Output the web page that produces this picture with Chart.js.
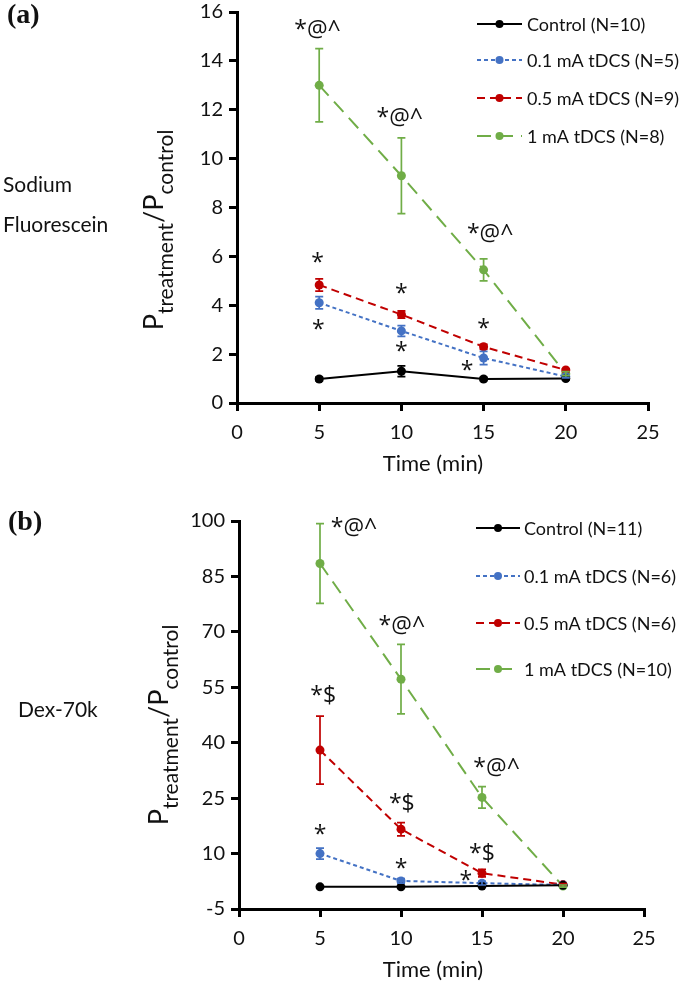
<!DOCTYPE html>
<html>
<head>
<meta charset="utf-8">
<script src="https://cdn.jsdelivr.net/npm/chart.js@4.4.1/dist/chart.umd.min.js"></script>
<style>
  body { margin: 0; background: #fff; }
  #wrap { position: relative; width: 685px; height: 984px; }
  canvas { position: absolute; left: 0; }
</style>
</head>
<body>
<div id="wrap">
  <canvas id="chartA" width="685" height="490" style="top:0"></canvas>
  <canvas id="chartB" width="685" height="494" style="top:490px"></canvas>
</div>
<script>
const times = [5, 10, 15, 20];
const xTicks = [0, 5, 10, 15, 20, 25];

// (a) Sodium Fluorescein
const sfControl = [0.98, 1.3, 0.98, 1.0];
const sfControlErr = [0.08, 0.22, 0.07, 0.05];
const sf01 = [4.1, 2.95, 1.84, 1.08];
const sf01Err = [0.25, 0.22, 0.27, 0.05];
const sf05 = [4.83, 3.62, 2.3, 1.35];
const sf05Err = [0.25, 0.15, 0.1, 0.05];
const sf1 = [13.0, 9.3, 5.45, 1.2];
const sf1Err = [1.5, 1.55, 0.45, 0.08];
const sfTicks = [0, 2, 4, 6, 8, 10, 12, 14, 16];
const sfLegend = ['Control (N=10)', '0.1 mA tDCS (N=5)', '0.5 mA tDCS (N=9)', '1 mA tDCS (N=8)'];
const sfMarks = [
  ['*@^', 4.9, 15.3], ['*@^', 9.9, 11.7], ['*@^', 15.4, 6.95],
  ['*', 4.9, 5.97], ['*', 4.95, 3.2], ['*', 10, 4.7], ['*', 10, 2.3],
  ['*', 15, 3.27], ['*', 14, 1.55]
];

// (b) Dex-70k
const dxControl = [1.0, 1.0, 1.2, 1.4];
const dxControlErr = [0.3, 0.3, 0.3, 0.3];
const dx01 = [10.0, 2.6, 2.0, 1.5];
const dx01Err = [1.5, 0.6, 0.5, 0.3];
const dx05 = [38, 16.6, 4.7, 1.6];
const dx05Err = [9.2, 1.8, 1.0, 0.3];
const dx1 = [88.5, 57.2, 25.2, 1.2];
const dx1Err = [10.8, 9.4, 2.9, 0.3];
const dxTicks = [-5, 10, 25, 40, 55, 70, 85, 100];
const dxLegend = ['Control (N=11)', '0.1 mA tDCS (N=6)', '0.5 mA tDCS (N=6)', '1 mA tDCS (N=10)'];
const dxMarks = [
  ['*@^', 7.1, 98.4], ['*@^', 10.05, 71.9], ['*@^', 15.9, 33.4],
  ['*$', 5.2, 52.9], ['*$', 10.05, 23.7], ['*$', 15, 10.2],
  ['*', 5, 16.4], ['*', 10, 7.4], ['*', 14, 4.2]
];

const FONT = 'Lato';
const INK = '#111';
const styles = [
  { color: '#000000', dash: [] },
  { color: '#4472C4', dash: [4, 3] },
  { color: '#C00000', dash: [8, 5] },
  { color: '#70AD47', dash: [14, 8] }
];

function makeDatasets(series, errs) {
  return series.map((vals, i) => ({
    data: vals.map((v, j) => ({ x: times[j], y: v })),
    errors: errs[i],
    borderColor: styles[i].color,
    backgroundColor: styles[i].color,
    borderDash: styles[i].dash,
    borderWidth: 2,
    pointRadius: 4.5,
    pointHoverRadius: 4.5,
    pointBorderWidth: 0,
    tension: 0,
    fill: false
  }));
}

const errorBars = {
  id: 'errorBars',
  afterDatasetsDraw(chart) {
    const ctx = chart.ctx;
    const ys = chart.scales.y;
    chart.data.datasets.forEach((ds, i) => {
      const meta = chart.getDatasetMeta(i);
      ctx.save();
      ctx.strokeStyle = ds.borderColor;
      ctx.lineWidth = 1.7;
      meta.data.forEach((pt, j) => {
        const v = ds.data[j].y, e = ds.errors[j];
        const top = ys.getPixelForValue(v + e);
        const bot = ys.getPixelForValue(v - e);
        ctx.beginPath();
        ctx.moveTo(pt.x, top); ctx.lineTo(pt.x, bot);
        ctx.moveTo(pt.x - 4, top); ctx.lineTo(pt.x + 4, top);
        ctx.moveTo(pt.x - 4, bot); ctx.lineTo(pt.x + 4, bot);
        ctx.stroke();
      });
      ctx.restore();
    });
  }
};

function drawYTitle(ctx, bx, cy) {
  const parts = [['P', `27px ${FONT}`, 0], ['treatment', `21px ${FONT}`, 10], ['/P', `27px ${FONT}`, 0], ['control', `21px ${FONT}`, 10]];
  let total = 0;
  parts.forEach(p => { ctx.font = p[1]; total += ctx.measureText(p[0]).width; });
  ctx.save();
  ctx.translate(bx, cy);
  ctx.rotate(-Math.PI / 2);
  ctx.fillStyle = INK;
  ctx.textBaseline = 'alphabetic';
  ctx.textAlign = 'left';
  let x = -total / 2;
  parts.forEach(p => {
    ctx.font = p[1];
    ctx.fillText(p[0], x, p[2]);
    x += ctx.measureText(p[0]).width;
  });
  ctx.restore();
}

const decor = {
  id: 'decor',
  afterDraw(chart, args, o) {
    const ctx = chart.ctx;
    const xs = chart.scales.x, ys = chart.scales.y;
    ctx.save();
    ctx.fillStyle = INK;

    // panel letter
    ctx.font = `bold 28px "Liberation Serif"`;
    ctx.textBaseline = 'middle';
    ctx.textAlign = 'left';
    ctx.fillText(o.panel[0], o.panel[1], o.panel[2]);

    // substance labels
    ctx.font = `21px ${FONT}`;
    o.side.forEach(s => ctx.fillText(s[0], s[1], s[2]));

    // x axis title
    ctx.font = `22px ${FONT}`;
    ctx.textAlign = 'center';
    ctx.fillText('Time (min)', o.xTitle[0], o.xTitle[1]);

    drawYTitle(ctx, o.yTitle[0], o.yTitle[1]);

    // significance marks
    ctx.font = `23px "Open Sans"`;
    ctx.textAlign = 'center';
    ctx.textBaseline = 'alphabetic';
    o.marks.forEach(([t, x, y]) => {
      const m = ctx.measureText(t);
      const px = xs.getPixelForValue(x), py = ys.getPixelForValue(y);
      ctx.fillText(t, px, py + (m.actualBoundingBoxAscent - m.actualBoundingBoxDescent) / 2);
    });

    // legend
    const lg = o.legend;
    o.labels.forEach((lab, i) => {
      const y = lg.rows[i];
      ctx.strokeStyle = styles[i].color;
      ctx.fillStyle = styles[i].color;
      ctx.lineWidth = 2;
      ctx.setLineDash(styles[i].dash);
      ctx.beginPath();
      ctx.moveTo(lg.x0, y); ctx.lineTo(lg.x1, y);
      ctx.stroke();
      ctx.setLineDash([]);
      ctx.beginPath();
      ctx.arc((lg.x0 + lg.x1) / 2, y, 4, 0, Math.PI * 2);
      ctx.fill();
      ctx.fillStyle = INK;
      ctx.font = `18px ${FONT}`;
      ctx.textAlign = 'left';
      ctx.textBaseline = 'middle';
      ctx.fillText(lab, lg.tx, y + 1);
    });
    ctx.restore();
  }
};

function axisStyle(pad) {
  return {
    border: { color: '#000', width: 3 },
    grid: { drawOnChartArea: false, drawTicks: true, tickLength: 8, color: '#000', lineWidth: 3 },
    ticks: { color: INK, font: { family: FONT, size: 20 }, padding: pad }
  };
}

function buildChart(id, series, errs, yTicks, cfg) {
  const xAxis = axisStyle(10);
  const yAxis = axisStyle(6);
  return new Chart(document.getElementById(id), {
    type: 'line',
    data: { datasets: makeDatasets(series, errs) },
    options: {
      responsive: false,
      animation: false,
      events: [],
      layout: { padding: { top: cfg.top, right: cfg.right, left: 0, bottom: 0 } },
      scales: {
        x: Object.assign(xAxis, {
          type: 'linear', min: xTicks[0], max: xTicks[xTicks.length - 1],
          afterBuildTicks: s => { s.ticks = xTicks.map(v => ({ value: v })); },
          afterFit: s => { s.height = cfg.xHeight; s.paddingLeft = 0; s.paddingRight = 0; }
        }),
        y: Object.assign(yAxis, {
          type: 'linear', min: yTicks[0], max: yTicks[yTicks.length - 1],
          afterBuildTicks: s => { s.ticks = yTicks.map(v => ({ value: v })); },
          afterFit: s => { s.width = cfg.left; s.paddingTop = 0; s.paddingBottom = 0; }
        })
      },
      plugins: {
        legend: { display: false },
        tooltip: { enabled: false },
        decor: cfg.decor
      }
    },
    plugins: [errorBars, decor]
  });
}

buildChart('chartA', [sfControl, sf01, sf05, sf1], [sfControlErr, sf01Err, sf05Err, sf1Err], sfTicks, {
  top: 12, right: 37, left: 237, xHeight: 87,
  decor: {
    panel: ['(a)', 7, 16],
    side: [['Sodium', 3, 185], ['Fluorescein', 3, 225]],
    xTitle: [433, 464],
    yTitle: [163, 230],
    marks: sfMarks,
    labels: sfLegend,
    legend: { x0: 477, x1: 522, tx: 527, rows: [24, 60, 98, 136] }
  }
});

buildChart('chartB', [dxControl, dx01, dx05, dx1], [dxControlErr, dx01Err, dx05Err, dx1Err], dxTicks, {
  top: 31, right: 41, left: 239, xHeight: 75,
  decor: {
    panel: ['(b)', 8, 33],
    side: [['Dex-70k', 18, 220]],
    xTitle: [433, 480],
    yTitle: [168, 235],
    marks: dxMarks,
    labels: dxLegend,
    legend: { x0: 476, x1: 520, tx: 524, rows: [38, 86, 133, 179] }
  }
});
</script>
</body>
</html>
